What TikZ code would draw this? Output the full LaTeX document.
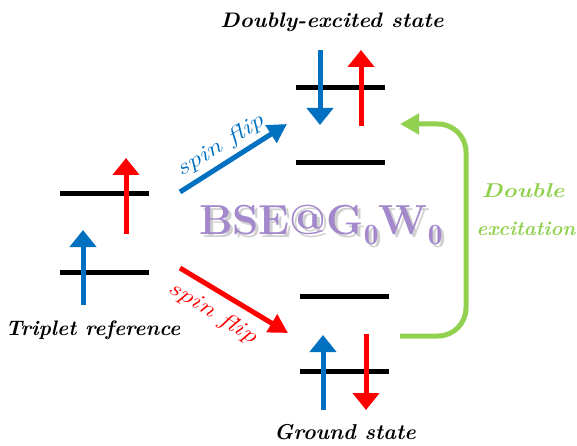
\documentclass[tikz,border=0pt]{standalone}
\usepackage{fontspec}
\usetikzlibrary{arrows.meta}
\definecolor{myblue}{RGB}{0,112,192}
\definecolor{myred}{RGB}{255,0,0}
\definecolor{mygreen}{RGB}{146,208,80}
\definecolor{mypurple}{RGB}{163,136,204}
\begin{document}
\begin{tikzpicture}[x=1pt,y=-1pt,
  level/.style={line width=5pt,black},
  spinarr/.style={line width=5pt,-{Triangle[width=26pt,length=17pt]}},
  bigarr/.style={line width=5pt,-{Triangle[width=20pt,length=19pt]}},
  lbl/.style={inner sep=0pt},
  fliplbl/.style={font=\fontsize{22}{22}\selectfont\itshape,inner sep=0pt},
  grnlbl/.style={font=\fontsize{20}{20}\selectfont\bfseries\itshape,text=mygreen,inner sep=0pt}]
\useasboundingbox (0,0) rectangle (577,446);
% Triplet reference
\draw[level] (60,194) -- (149,194);
\draw[level] (60,272) -- (149,272);
\draw[spinarr,myblue] (83,305) -- (83,230);
\draw[spinarr,myred] (126,234) -- (126,158);
\node[lbl] (trip) at (93,330) {\fontsize{21}{21}\selectfont\bfseries\itshape Triplet reference};
% Doubly excited state
\draw[level] (296,88) -- (385,88);
\draw[level] (296,163) -- (385,163);
\draw[spinarr,myblue] (320,50) -- (320,125);
\draw[spinarr,myred] (361,126) -- (361,50);
\node[lbl] (dex) at (332,22) {\scalebox{1.05}[1]{\fontsize{21}{21}\selectfont\bfseries\itshape Doubly-excited state}};
% Ground state
\draw[level] (300,296) -- (389,296);
\draw[level] (300,371) -- (389,371);
\draw[spinarr,myblue] (323,410) -- (323,335);
\draw[spinarr,myred] (366,334) -- (366,410);
\node[lbl] (gs) at (345,432) {\fontsize{21.5}{21.5}\selectfont\bfseries\itshape Ground state};
% spin flip arrows
\coordinate (b1) at (180,192); \coordinate (b2) at (287,124);
\coordinate (r1) at (180,268); \coordinate (r2) at (288,333);
\draw[bigarr,myblue] (b1) -- (b2);
\draw[bigarr,myred] (r1) -- (r2);
\node[fliplbl,text=myblue,rotate=32] (sf1) at (221,146) {\scalebox{1.3}[1]{spin flip}};
\node[fliplbl,text=myred,rotate=-32] (sf2) at (213,313) {\scalebox{1.3}[1]{spin flip}};
% Double excitation arrow
\coordinate (g1) at (400,336); \coordinate (g2) at (400,124);
\draw[bigarr,mygreen,rounded corners=28pt] (g1) -- (466,336) -- (466,124) -- (g2);
\node[grnlbl] (de1) at (523,191) {\scalebox{1.2}[1]{Double}};
\node[grnlbl] (de2) at (526,229) {excitation};
% BSE@G0W0
\node[font=\fontsize{42}{42}\selectfont\bfseries,text=black!18,inner sep=0pt] (bseshadow) at (324,228) {BSE@G$_\mathbf{0}$W$_\mathbf{0}$};
\node[font=\fontsize{42}{42}\selectfont\bfseries,text=mypurple,inner sep=0pt] (bse) at (321,225) {BSE@G$_\mathbf{0}$W$_\mathbf{0}$};
\end{tikzpicture}
\end{document}
